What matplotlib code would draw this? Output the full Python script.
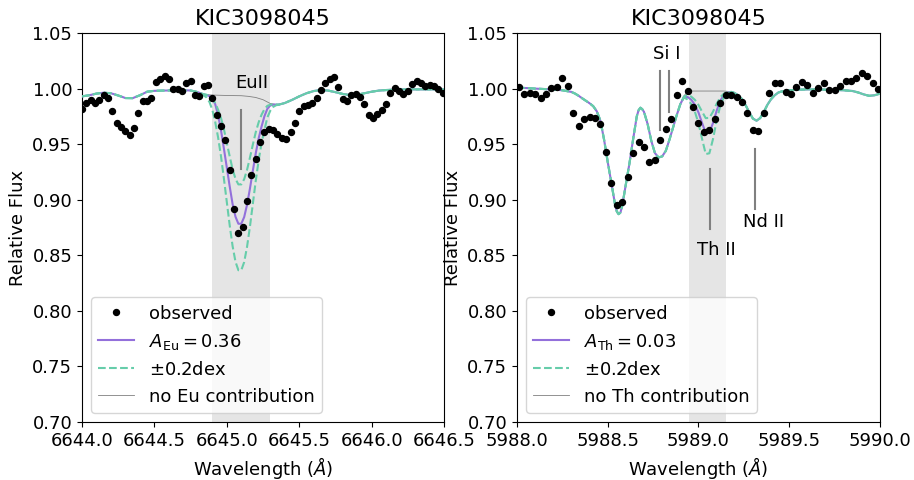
import numpy as np
import matplotlib
matplotlib.use('Agg')
import matplotlib.pyplot as plt
from matplotlib.ticker import FormatStrFormatter

# ---- Eu II 6645 region ----
eu_obs_wave = [6644.00, 6644.03, 6644.06, 6644.09, 6644.12, 6644.15, 6644.18, 6644.21, 6644.24, 6644.27,
               6644.30, 6644.33, 6644.36, 6644.39, 6644.42, 6644.45, 6644.48, 6644.51, 6644.54, 6644.57,
               6644.60, 6644.63, 6644.66, 6644.69, 6644.72, 6644.75, 6644.78, 6644.81, 6644.84, 6644.87,
               6644.90, 6644.93, 6644.96, 6644.99, 6645.02, 6645.05, 6645.08, 6645.11, 6645.14, 6645.17,
               6645.20, 6645.23, 6645.26, 6645.29, 6645.32, 6645.35, 6645.38, 6645.41, 6645.44, 6645.47,
               6645.50, 6645.53, 6645.56, 6645.59, 6645.62, 6645.65, 6645.68, 6645.71, 6645.74, 6645.77,
               6645.80, 6645.83, 6645.86, 6645.89, 6645.92, 6645.95, 6645.98, 6646.01, 6646.04, 6646.07,
               6646.10, 6646.13, 6646.16, 6646.19, 6646.22, 6646.25, 6646.28, 6646.31, 6646.34, 6646.37,
               6646.40, 6646.43, 6646.46, 6646.49]
eu_obs_flux = [0.9813, 0.9867, 0.9897, 0.9867, 0.9897, 0.9942, 0.9912, 0.9795, 0.9687, 0.9654,
               0.9615, 0.9585, 0.9645, 0.9783, 0.9891, 0.9885, 0.9915, 1.0059, 1.0083, 1.0116,
               1.0086, 0.9999, 0.9996, 0.9981, 1.0053, 1.0071, 0.9939, 0.9936, 1.0020, 1.0029,
               0.9912, 0.9759, 0.9666, 0.9537, 0.9264, 0.8913, 0.8697, 0.8754, 0.8992, 0.9220,
               0.9363, 0.9519, 0.9613, 0.9639, 0.9627, 0.9594, 0.9555, 0.9550, 0.9609, 0.9687,
               0.9795, 0.9843, 0.9849, 0.9870, 0.9915, 0.9987, 1.0047, 1.0083, 1.0101, 1.0011,
               0.9903, 0.9891, 0.9945, 0.9954, 0.9927, 0.9858, 0.9765, 0.9735, 0.9771, 0.9810,
               0.9861, 0.9963, 1.0002, 0.9981, 0.9951, 0.9981, 1.0041, 1.0071, 1.0047, 1.0023,
               1.0029, 1.0023, 0.9993, 0.9963]

# synthesis without Eu
eu_cont_wave = [6644.00, 6644.05, 6644.10, 6644.15, 6644.20, 6644.25, 6644.30, 6644.35, 6644.40, 6644.45,
                6644.50, 6644.55, 6644.60, 6644.65, 6644.70, 6644.75, 6644.80, 6644.85, 6644.90, 6644.95,
                6645.00, 6645.05, 6645.10, 6645.15, 6645.20, 6645.25, 6645.30, 6645.35, 6645.40, 6645.45,
                6645.50, 6645.55, 6645.60, 6645.65, 6645.70, 6645.75, 6645.80, 6645.85, 6645.90, 6645.95,
                6646.00, 6646.05, 6646.10, 6646.15, 6646.20, 6646.25, 6646.30, 6646.35, 6646.40, 6646.45,
                6646.50]
eu_cont_flux = [0.9930, 0.9940, 0.9955, 0.9963, 0.9958, 0.9938, 0.9915, 0.9914, 0.9940, 0.9972,
                0.9980, 0.9982, 0.9983, 0.9984, 0.9985, 0.9983, 0.9968, 0.9948, 0.9942, 0.9940,
                0.9938, 0.9937, 0.9936, 0.9930, 0.9920, 0.9900, 0.9866, 0.9856, 0.9870, 0.9898,
                0.9930, 0.9958, 0.9978, 0.9987, 0.9982, 0.9968, 0.9952, 0.9942, 0.9945, 0.9958,
                0.9972, 0.9982, 0.9987, 0.9990, 0.9992, 0.9993, 0.9993, 0.9993, 0.9993, 0.9993,
                0.9993]

# synthesis with Eu, only where the line matters
eu_line_wave = [6644.84, 6644.86, 6644.88, 6644.90, 6644.92, 6644.94, 6644.96, 6644.98, 6645.00,
                6645.02, 6645.04, 6645.06, 6645.08, 6645.10, 6645.12, 6645.14, 6645.16, 6645.18,
                6645.20, 6645.22, 6645.24, 6645.26, 6645.28, 6645.30, 6645.32, 6645.34, 6645.36]
eu_best = [0.9948, 0.9942, 0.9932, 0.9912, 0.9860, 0.9760, 0.9625, 0.9460, 0.9290,
           0.9120, 0.8961, 0.8847, 0.8784, 0.8784, 0.8844, 0.8956, 0.9102, 0.9262,
           0.9418, 0.9552, 0.9659, 0.9752, 0.9818, 0.9848, 0.9855, 0.9856, 0.9856]
eu_minus = [0.9950, 0.9945, 0.9935, 0.9910, 0.9870, 0.9810, 0.9735, 0.9635, 0.9511,
            0.9390, 0.9275, 0.9188, 0.9138, 0.9138, 0.9185, 0.9270, 0.9380, 0.9497,
            0.9608, 0.9697, 0.9765, 0.9815, 0.9845, 0.9855, 0.9858, 0.9857, 0.9856]
eu_plus = [0.9940, 0.9920, 0.9880, 0.9810, 0.9700, 0.9560, 0.9390, 0.9190, 0.8980,
           0.8770, 0.8583, 0.8442, 0.8366, 0.8366, 0.8439, 0.8578, 0.8760, 0.8966,
           0.9171, 0.9355, 0.9510, 0.9629, 0.9740, 0.9800, 0.9835, 0.9850, 0.9855]

# ---- Th II 5989 region ----
th_obs_wave = [5988.01, 5988.04, 5988.07, 5988.10, 5988.13, 5988.16, 5988.19, 5988.22, 5988.25, 5988.28,
               5988.31, 5988.34, 5988.37, 5988.40, 5988.43, 5988.46, 5988.49, 5988.52, 5988.55, 5988.58,
               5988.61, 5988.64, 5988.67, 5988.70, 5988.73, 5988.76, 5988.79, 5988.82, 5988.85, 5988.88,
               5988.91, 5988.94, 5988.97, 5989.00, 5989.03, 5989.06, 5989.09, 5989.12, 5989.15, 5989.18,
               5989.21, 5989.24, 5989.27, 5989.30, 5989.33, 5989.36, 5989.39, 5989.42, 5989.45, 5989.48,
               5989.51, 5989.54, 5989.57, 5989.60, 5989.63, 5989.66, 5989.69, 5989.72, 5989.75, 5989.78,
               5989.81, 5989.84, 5989.87, 5989.90, 5989.93, 5989.96, 5989.99]
th_obs_flux = [1.0014, 0.9951, 0.9963, 0.9948, 0.9915, 0.9951, 1.0005, 1.0014, 1.0092, 1.0020,
               0.9777, 0.9660, 0.9729, 0.9744, 0.9732, 0.9684, 0.9432, 0.9153, 0.8949, 0.8979,
               0.9204, 0.9417, 0.9519, 0.9474, 0.9339, 0.9357, 0.9537, 0.9633, 0.9723, 0.9942,
               1.0068, 0.9978, 0.9834, 0.9687, 0.9612, 0.9630, 0.9730, 0.9867, 0.9942, 0.9942,
               0.9927, 0.9882, 0.9777, 0.9630, 0.9618, 0.9777, 0.9957, 1.0047, 1.0047, 0.9972,
               0.9951, 1.0017, 1.0062, 1.0032, 0.9963, 1.0002, 1.0053, 0.9987, 0.9987, 1.0023,
               1.0071, 1.0071, 1.0092, 1.0137, 1.0116, 1.0053, 0.9993]

# synthesis without Th
th_cont_wave = [5988.00, 5988.05, 5988.10, 5988.15, 5988.20, 5988.25, 5988.30, 5988.32, 5988.34, 5988.36,
                5988.38, 5988.40, 5988.42, 5988.44, 5988.46, 5988.48, 5988.50, 5988.52, 5988.54, 5988.55,
                5988.56, 5988.57, 5988.58, 5988.60, 5988.62, 5988.64, 5988.66, 5988.67, 5988.68, 5988.69,
                5988.70, 5988.72, 5988.74, 5988.76, 5988.78, 5988.80, 5988.82, 5988.84, 5988.86, 5988.88,
                5988.90, 5988.92, 5988.94, 5988.96, 5989.00, 5989.05, 5989.10, 5989.14, 5989.16, 5989.18,
                5989.20, 5989.22, 5989.24, 5989.26, 5989.28, 5989.30, 5989.32, 5989.34, 5989.36, 5989.38,
                5989.40, 5989.42, 5989.44, 5989.46, 5989.50, 5989.55, 5989.60, 5989.65, 5989.70, 5989.75,
                5989.80, 5989.85, 5989.88, 5989.91, 5989.94, 5989.97, 5990.00]
th_cont_flux = [1.0008, 1.0005, 1.0000, 0.9996, 0.9992, 0.9985, 0.9970, 0.9955, 0.9935, 0.9912,
                0.9890, 0.9868, 0.9842, 0.9795, 0.9710, 0.9540, 0.9340, 0.9153, 0.8960, 0.8895,
                0.8870, 0.8885, 0.8945, 0.9140, 0.9330, 0.9545, 0.9750, 0.9805, 0.9828, 0.9815,
                0.9790, 0.9680, 0.9530, 0.9420, 0.9380, 0.9390, 0.9440, 0.9540, 0.9650, 0.9760,
                0.9860, 0.9935, 0.9972, 0.9978, 0.9978, 0.9978, 0.9978, 0.9978, 0.9975, 0.9970,
                0.9960, 0.9938, 0.9905, 0.9850, 0.9785, 0.9730, 0.9711, 0.9735, 0.9790, 0.9855,
                0.9905, 0.9940, 0.9965, 0.9975, 0.9985, 0.9990, 0.9993, 0.9992, 0.9990, 0.9988,
                0.9985, 0.9978, 0.9965, 0.9948, 0.9935, 0.9940, 0.9955]

th_line_wave = [5988.92, 5988.94, 5988.96, 5988.98, 5989.00, 5989.02, 5989.04,
                5989.06, 5989.08, 5989.10, 5989.12, 5989.14, 5989.16, 5989.18]
th_best = [0.9925, 0.9925, 0.9900, 0.9855, 0.9785, 0.9690, 0.9600,
           0.9605, 0.9690, 0.9800, 0.9890, 0.9942, 0.9963, 0.9970]
th_minus = [0.9929, 0.9942, 0.9928, 0.9899, 0.9853, 0.9792, 0.9734,
            0.9737, 0.9792, 0.9863, 0.9921, 0.9955, 0.9967, 0.9970]
th_plus = [0.9920, 0.9902, 0.9861, 0.9793, 0.9688, 0.9546, 0.9411,
           0.9418, 0.9546, 0.9711, 0.9846, 0.9924, 0.9957, 0.9970]

yticks = [0.70, 0.75, 0.80, 0.85, 0.90, 0.95, 1.00, 1.05]
eu_xticks = [6644.0, 6644.5, 6645.0, 6645.5, 6646.0, 6646.5]
th_xticks = [5988.0, 5988.5, 5989.0, 5989.5, 5990.0]

purple = '#9370DB'
green = '#66CDAA'


def with_line(cont_wave, cont_flux, line_wave, line_flux):
    # splice the line region into the synthesis without the element
    cont_wave = np.asarray(cont_wave)
    cont_flux = np.asarray(cont_flux)
    left = cont_wave < line_wave[0]
    right = cont_wave > line_wave[-1]
    wave = np.concatenate([cont_wave[left], line_wave, cont_wave[right]])
    flux = np.concatenate([cont_flux[left], line_flux, cont_flux[right]])
    return wave, flux


def plot_panel(ax, obs_wave, obs_flux, cont_wave, cont_flux, line_wave, best, minus, plus,
               best_label, none_label, span, xticks):
    ax.axvspan(span[0], span[1], color='grey', alpha=0.2, lw=0, zorder=0)
    ax.plot(obs_wave, obs_flux, 'o', color='k', ms=4.3, label='observed', zorder=5)
    w, f = with_line(cont_wave, cont_flux, line_wave, best)
    ax.plot(w, f, color=purple, lw=1.5, label=best_label, zorder=3)
    w, f = with_line(cont_wave, cont_flux, line_wave, minus)
    ax.plot(w, f, '--', color=green, lw=1.5, label=r'$\pm0.2$dex', zorder=3)
    w, f = with_line(cont_wave, cont_flux, line_wave, plus)
    ax.plot(w, f, '--', color=green, lw=1.5, zorder=3)
    ax.plot(cont_wave, cont_flux, color='grey', lw=0.6, label=none_label, zorder=2)

    ax.set_xlim(xticks[0], xticks[-1])
    ax.set_ylim(0.70, 1.05)
    ax.set_xticks(xticks)
    ax.set_yticks(yticks)
    ax.xaxis.set_major_formatter(FormatStrFormatter('%.1f'))
    ax.yaxis.set_major_formatter(FormatStrFormatter('%.2f'))
    ax.tick_params(labelsize=13)
    ax.set_title('KIC3098045', fontsize=16)
    ax.set_xlabel(r'Wavelength ($Å$)', fontsize=13)
    ax.set_ylabel('Relative Flux', fontsize=13)
    ax.legend(loc='lower left', fontsize=13, numpoints=1)


fig = plt.figure(figsize=(9.14, 4.8), dpi=100)
ax1 = fig.add_axes([0.0897, 0.1208, 0.3961, 0.8104])
ax2 = fig.add_axes([0.5656, 0.1208, 0.3972, 0.8104])

plot_panel(ax1, eu_obs_wave, eu_obs_flux, eu_cont_wave, eu_cont_flux, eu_line_wave,
           eu_best, eu_minus, eu_plus, r'$A_{\rm Eu} = 0.36$', 'no Eu contribution',
           (6644.9, 6645.3), eu_xticks)
ax1.plot([6645.10, 6645.10], [0.928, 0.981], color='grey', lw=1.5)
ax1.text(6645.17, 1.005, 'EuII', fontsize=13, ha='center', va='center')

plot_panel(ax2, th_obs_wave, th_obs_flux, th_cont_wave, th_cont_flux, th_line_wave,
           th_best, th_minus, th_plus, r'$A_{\rm Th} = 0.03$', 'no Th contribution',
           (5988.95, 5989.15), th_xticks)
ax2.plot([5988.79, 5988.79], [0.963, 1.016], color='grey', lw=1.5)
ax2.plot([5988.837, 5988.837], [0.979, 1.016], color='grey', lw=1.5)
ax2.text(5988.823, 1.031, 'Si I', fontsize=13, ha='center', va='center')
ax2.plot([5989.065, 5989.065], [0.874, 0.928], color='grey', lw=1.5)
ax2.text(5989.10, 0.855, 'Th II', fontsize=13, ha='center', va='center')
ax2.plot([5989.313, 5989.313], [0.892, 0.946], color='grey', lw=1.5)
ax2.text(5989.357, 0.880, 'Nd II', fontsize=13, ha='center', va='center')

fig.savefig('out.png', dpi=100)
